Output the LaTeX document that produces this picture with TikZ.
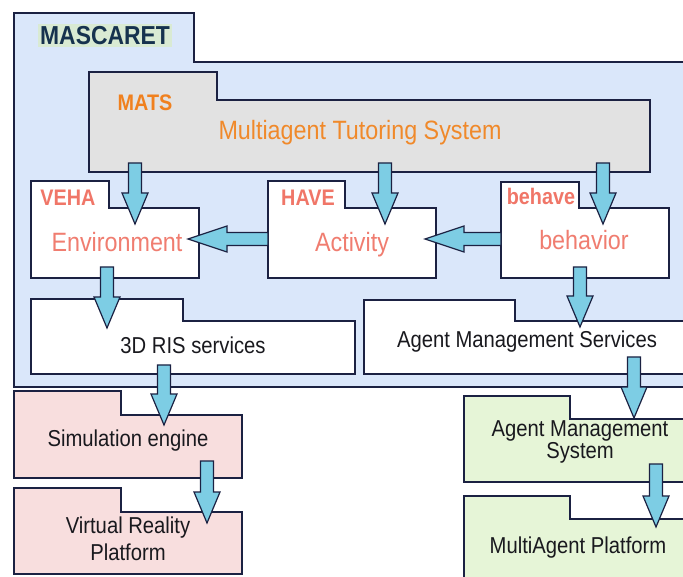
\documentclass[tikz,border=0pt]{standalone}
\usepackage{fontspec}
\setmainfont[FakeStretch=0.88]{Liberation Sans}
\usetikzlibrary{calc,fit}

\newcommand\pkgbox[8]{%
\path[pkg,fill={#2}] (#3,#4) -- (#5,#4) -- (#5,#6) -- (#7,#6) -- (#7,#8) -- (#3,#8) -- cycle;
\node[body,fit={(#3,#6) (#7,#8)}] (#1) {};}

\newcommand\arrdown[2]{%
\path[blockarrow] let \p1=(#1), \p2=(#2) in (\x1-6.5pt,\y1) -- (\x1+6.5pt,\y1) -- (\x1+6.5pt,\y2+31pt) -- (\x1+13pt,\y2+31pt) -- (\x1,\y2) -- (\x1-13pt,\y2+31pt) -- (\x1-6.5pt,\y2+31pt) -- cycle;}

\newcommand\arrleft[2]{%
\path[blockarrow] let \p1=(#1), \p2=(#2) in (\x1,\y1+6.5pt) -- (\x2+39pt,\y1+6.5pt) -- (\x2+39pt,\y1+13pt) -- (\x2,\y1) -- (\x2+39pt,\y1-13pt) -- (\x2+39pt,\y1-6.5pt) -- (\x1,\y1-6.5pt) -- cycle;}

\begin{document}
\begin{tikzpicture}[x=1pt,y=-1pt,
  pkg/.style={draw={rgb,255:red,27;green,33;blue,66},line width=2.4pt,line join=miter},
  body/.style={inner sep=0pt,outer sep=0pt},
  blockarrow/.style={draw={rgb,255:red,27;green,33;blue,66},fill={rgb,255:red,125;green,205;blue,228},line width=1.2pt,line join=miter},
  tag/.style={inner sep=1pt,outer sep=0pt,font=\bfseries\fontsize{22.5}{26}\selectfont,text={rgb,255:red,240;green,118;blue,104}},
  title/.style={inner sep=0pt,outer sep=0pt,anchor=base,font=\fontsize{26.5}{30}\selectfont,text={rgb,255:red,240;green,125;blue,112}},
  plain/.style={inner sep=0pt,outer sep=0pt,font=\fontsize{23}{27}\selectfont,text={rgb,255:red,25;green,25;blue,30},align=center}]
\path[use as bounding box] (0,0) rectangle (683,577);
\clip (0,0) rectangle (683,577);
\pkgbox{masc}{rgb,255:red,218;green,231;blue,250}{14}{13}{194}{62}{700}{387}
\pkgbox{mats}{rgb,255:red,226;green,226;blue,226}{89}{72}{217}{100}{650}{172}
\pkgbox{env}{white}{31}{181}{109}{208}{199}{278}
\pkgbox{have}{white}{268}{181}{345}{208}{436}{278}
\pkgbox{beh}{white}{501}{182}{579}{208}{669}{278}
\pkgbox{ris}{white}{31}{299}{183}{321}{355}{374}
\pkgbox{ams}{white}{364}{300}{515}{321}{700}{374}
\pkgbox{sim}{rgb,255:red,248;green,222;blue,222}{14}{391}{121}{415}{242}{478}
\pkgbox{vrp}{rgb,255:red,248;green,222;blue,222}{14}{488}{121}{512}{242}{574}
\pkgbox{amsys}{rgb,255:red,230;green,245;blue,215}{464}{396}{570}{419}{700}{482}
\pkgbox{map}{rgb,255:red,230;green,245;blue,215}{464}{496}{570}{519}{700}{600}
\node[fill={rgb,255:red,217;green,234;blue,211},inner sep=2pt,font=\bfseries\fontsize{26}{30}\selectfont,text={rgb,255:red,22;green,50;blue,78}] (masclabel) at (105,35.5) {MASCARET};
\node[tag,text={rgb,255:red,240;green,128;blue,30}] (matslabel) at (145,103) {MATS};
\node[title,text={rgb,255:red,240;green,137;blue,42}] (matstitle) at (360,140) {Multiagent Tutoring System};
\node[tag] (vehalabel) at (68,198) {VEHA};
\node[tag] (havelabel) at (308,198) {HAVE};
\node[tag,fill=white] (behavelabel) at (541,196) {behave};
\node[title] (envtitle) at (117,252) {Environment};
\node[title] (havetitle) at (352,252) {Activity};
\node[title] (behtitle) at (584,250) {behavior};
\node[plain] (ristitle) at (193,345) {3D RIS services};
\node[plain] (amstitle) at (527,342) {Agent Management Services};
\node[plain] (simtitle) at (128,441) {Simulation engine};
\node[plain] (vrptitle) at (128,539) {Virtual Reality\\Platform};
\node[plain,font=\fontsize{23}{22}\selectfont] (amsystitle) at (580,442) {Agent Management\\System};
\node[plain] (maptitle) at (578,548) {MultiAgent Platform};
\arrdown{$(mats.south west)+(46,-9)$}{$(env.north)+(0,16)$}
\arrdown{$(mats.south west)+(296,-9)$}{$(have.north)+(0,16)$}
\arrdown{$(mats.south west)+(514,-9)$}{$(beh.north)+(0,16)$}
\arrdown{$(env.south west)+(76,-11)$}{$(ris.north)+(0,7)$}
\arrdown{$(beh.south west)+(79,-11)$}{$(ams.north)+(0,6)$}
\arrdown{$(ris.south west)+(133,-9)$}{$(sim.north)+(0,10)$}
\arrdown{$(sim.south west)+(193,-17)$}{$(vrp.north)+(0,11)$}
\arrdown{$(ams.south west)+(270,-17)$}{$(amsys.north)+(0,-1)$}
\arrdown{$(amsys.south west)+(192,-18)$}{$(map.north)+(0,8)$}
\arrleft{$(have.west)+(0,-4)$}{$(env.east)+(-11,0)$}
\arrleft{$(beh.west)+(0,-4)$}{$(have.east)+(-11,0)$}
\end{tikzpicture}
\end{document}
